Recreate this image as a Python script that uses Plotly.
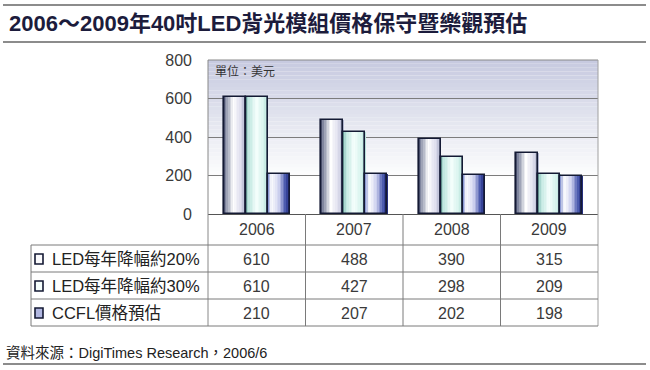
import plotly.graph_objects as go

# ---------------- data ----------------
years = ["2006", "2007", "2008", "2009"]
series_names = ["LED每年降幅約20%", "LED每年降幅約30%", "CCFL價格預估"]
led20 = [610, 488, 390, 315]
led30 = [610, 427, 298, 209]
ccfl = [210, 207, 202, 198]
y_ticks = [0, 200, 400, 600, 800]
title_text = "2006～2009年40吋LED背光模組價格保守暨樂觀預估"
unit_text = "單位：美元"
source_text = "資料來源：DigiTimes Research，2006/6"

series_values = [led20, led30, ccfl]

# ---------------- styling ----------------
W, H = 650, 370
ML, MR, MT, MB = 208, 52, 60, 156
PW, PH = W - ML - MR, H - MT - MB
FONT = "Liberation Sans, Arial, Noto Sans CJK TC, sans-serif"

def px(x):
    return (x - ML) / PW

def py(y):
    return (H - MB - y) / PH

def hex2rgb(h):
    h = h.lstrip("#")
    return [int(h[i:i + 2], 16) for i in (0, 2, 4)]

def interp(stops, t):
    for i in range(len(stops) - 1):
        t0, c0 = stops[i]
        t1, c1 = stops[i + 1]
        if t0 <= t <= t1:
            f = 0 if t1 == t0 else (t - t0) / (t1 - t0)
            a, b = hex2rgb(c0), hex2rgb(c1)
            return "rgb(%d,%d,%d)" % tuple(round(a[k] + (b[k] - a[k]) * f) for k in range(3))
    return stops[-1][1]

gradients = [
    [(0, "#2a3050"), (0.12, "#8a90a8"), (0.45, "#ffffff"), (0.8, "#dcdcec"), (1, "#a8acc8")],
    [(0, "#3a6a68"), (0.12, "#b8e4dc"), (0.5, "#f6fffd"), (0.85, "#d4f2ec"), (1, "#b0dcd4")],
    [(0, "#7080c8"), (0.2, "#ffffff"), (0.55, "#c8ccec"), (0.85, "#4050a8"), (1, "#1c2470")],
]
outline_color = "#141a34"

bar_w = 0.225
base_offsets = [-1.5 * bar_w, -0.5 * bar_w, 0.5 * bar_w]
N = 14

fig = go.Figure()
for s, vals in enumerate(series_values):
    for k in range(N):
        t = (k + 0.5) / N
        fig.add_trace(go.Bar(
            x=years, y=vals, width=bar_w / N + 0.004,
            offset=base_offsets[s] + k * bar_w / N,
            marker=dict(color=interp(gradients[s], t), line=dict(width=0)),
            showlegend=False, hoverinfo="skip",
        ))
    fig.add_trace(go.Bar(
        x=years, y=vals, width=bar_w, offset=base_offsets[s],
        name=series_names[s],
        marker=dict(color="rgba(0,0,0,0)", line=dict(color=outline_color, width=1.6)),
        showlegend=False,
    ))

shapes = []
# plot background gradient
NB = 40
for i in range(NB):
    y0 = i / NB
    y1 = (i + 1) / NB
    t = (y0 + y1) / 2
    col = interp([(0, "#ffffff"), (0.22, "#ffffff"), (0.6, "#e4e6f0"), (1, "#c6c9df")], t)
    shapes.append(dict(type="rect", xref="paper", yref="paper", x0=0, x1=1, y0=y0, y1=y1,
                       fillcolor=col, line=dict(width=0), layer="below"))

line_gray = "#8c8c8c"
table_gray = "#7a7a7a"
# horizontal rules
for yy in (5, 42, 364):
    shapes.append(dict(type="line", xref="paper", yref="paper", x0=px(3), x1=px(646),
                       y0=py(yy), y1=py(yy), line=dict(color=line_gray, width=2)))
# plot border
shapes.append(dict(type="line", xref="paper", yref="paper", x0=0, x1=1, y0=1, y1=1,
                   line=dict(color="#888888", width=1)))
shapes.append(dict(type="line", xref="paper", yref="paper", x0=1, x1=1, y0=py(326), y1=1,
                   line=dict(color="#a0a0a0", width=1)))
shapes.append(dict(type="line", xref="paper", yref="paper", x0=0, x1=0, y0=py(326), y1=1,
                   line=dict(color="#888888", width=1)))
# table vertical separators between categories
for i in range(1, len(years)):
    xx = ML + PW * i / len(years)
    shapes.append(dict(type="line", xref="paper", yref="paper", x0=px(xx), x1=px(xx),
                       y0=py(326), y1=0, line=dict(color=table_gray, width=1)))
# table rows
row_lines = [245, 272, 299, 326]
for yy in row_lines:
    shapes.append(dict(type="line", xref="paper", yref="paper", x0=px(31), x1=1,
                       y0=py(yy), y1=py(yy), line=dict(color=table_gray, width=1)))
shapes.append(dict(type="line", xref="paper", yref="paper", x0=px(31), x1=px(31),
                   y0=py(326), y1=py(245), line=dict(color=table_gray, width=1)))

annotations = []
# legend keys and row labels
for r, name in enumerate(series_names):
    yc = (row_lines[r] + row_lines[r + 1]) / 2 + 0.5
    shapes.append(dict(type="rect", xref="paper", yref="paper", x0=px(35), x1=px(43),
                       y0=py(yc + 5), y1=py(yc - 5),
                       fillcolor=interp(gradients[r], 0.5 if r != 2 else 0.6),
                       line=dict(color=outline_color, width=1.6)))
    annotations.append(dict(text=name, xref="paper", yref="paper", x=px(50), y=py(yc),
                            xanchor="left", yanchor="middle", showarrow=False,
                            font=dict(size=16.5, color="#222222", family=FONT)))
    for c in range(len(years)):
        annotations.append(dict(text=str(series_values[r][c]), xref="x", yref="paper",
                                x=c, y=py(yc), xanchor="center", yanchor="middle",
                                showarrow=False,
                                font=dict(size=16, color="#3a3a3a", family=FONT)))
# header years
for c in range(len(years)):
    annotations.append(dict(text=years[c], xref="x", yref="paper", x=c, y=py(229),
                            xanchor="center", yanchor="middle", showarrow=False,
                            font=dict(size=16, color="#3a3a3a", family=FONT)))
# title
annotations.append(dict(text="<b>" + title_text + "</b>", xref="paper", yref="paper",
                        x=px(7), y=py(24), xanchor="left", yanchor="middle", showarrow=False,
                        font=dict(size=22, color="#1c1c3c", family=FONT)))
# unit
annotations.append(dict(text=unit_text, xref="paper", yref="paper", x=px(213), y=py(71),
                        xanchor="left", yanchor="middle", showarrow=False,
                        font=dict(size=12, color="#333333", family=FONT)))
# source
annotations.append(dict(text=source_text, xref="paper", yref="paper", x=px(4), y=py(353),
                        xanchor="left", yanchor="middle", showarrow=False,
                        font=dict(size=14.5, color="#222222", family=FONT)))

fig.update_layout(
    width=W, height=H,
    margin=dict(l=ML, r=MR, t=MT, b=MB, pad=0),
    paper_bgcolor="white", plot_bgcolor="rgba(0,0,0,0)",
    barmode="overlay", bargap=0,
    showlegend=False,
    shapes=shapes, annotations=annotations,
    xaxis=dict(type="category", categoryarray=years, range=[-0.5, 3.5],
               showticklabels=False, showgrid=False, zeroline=False, showline=False,
               fixedrange=True),
    yaxis=dict(range=[0, 800], tickvals=y_ticks, ticktext=[str(v) for v in y_ticks],
               showgrid=True, gridcolor="#7c7c7c", gridwidth=1,
               zeroline=True, zerolinecolor="#555555", zerolinewidth=1,
               showline=False, ticklabelstandoff=15,
               tickfont=dict(size=16, color="#3a3a3a", family=FONT), fixedrange=True),
)

fig.write_html("out.html", config={"displayModeBar": False},
               post_script="document.body.style.margin='0';document.body.style.overflow='hidden';")
